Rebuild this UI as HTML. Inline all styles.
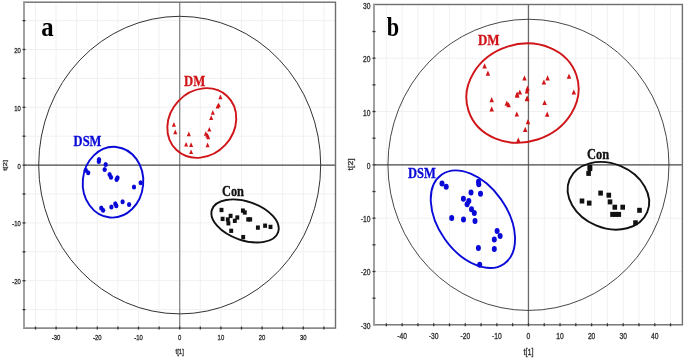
<!DOCTYPE html>
<html><head><meta charset="utf-8"><style>
html,body{margin:0;padding:0;background:#fff;}
body{width:685px;height:359px;overflow:hidden;}
svg{display:block;filter:blur(0.3px);}
.tl{font-family:"Liberation Sans",sans-serif;font-size:7.6px;fill:#333;stroke:#333;stroke-width:0.35px;}
.gl{font-family:"Liberation Serif",serif;font-weight:bold;stroke-width:0.3px;}
.pl{font-family:"Liberation Serif",serif;font-weight:bold;font-size:27.5px;fill:#000;}
</style></head><body>
<svg width="685" height="359" viewBox="0 0 685 359">
<rect width="685" height="359" fill="#fff"/>
<g>
<line x1="35.50" y1="2.2" x2="35.50" y2="328.1" stroke="#f1f1f1" stroke-width="1"/>
<line x1="56.10" y1="2.2" x2="56.10" y2="328.1" stroke="#f1f1f1" stroke-width="1"/>
<line x1="76.70" y1="2.2" x2="76.70" y2="328.1" stroke="#f1f1f1" stroke-width="1"/>
<line x1="97.30" y1="2.2" x2="97.30" y2="328.1" stroke="#f1f1f1" stroke-width="1"/>
<line x1="117.90" y1="2.2" x2="117.90" y2="328.1" stroke="#f1f1f1" stroke-width="1"/>
<line x1="138.50" y1="2.2" x2="138.50" y2="328.1" stroke="#f1f1f1" stroke-width="1"/>
<line x1="159.10" y1="2.2" x2="159.10" y2="328.1" stroke="#f1f1f1" stroke-width="1"/>
<line x1="179.70" y1="2.2" x2="179.70" y2="328.1" stroke="#f1f1f1" stroke-width="1"/>
<line x1="200.30" y1="2.2" x2="200.30" y2="328.1" stroke="#f1f1f1" stroke-width="1"/>
<line x1="220.90" y1="2.2" x2="220.90" y2="328.1" stroke="#f1f1f1" stroke-width="1"/>
<line x1="241.50" y1="2.2" x2="241.50" y2="328.1" stroke="#f1f1f1" stroke-width="1"/>
<line x1="262.10" y1="2.2" x2="262.10" y2="328.1" stroke="#f1f1f1" stroke-width="1"/>
<line x1="282.70" y1="2.2" x2="282.70" y2="328.1" stroke="#f1f1f1" stroke-width="1"/>
<line x1="303.30" y1="2.2" x2="303.30" y2="328.1" stroke="#f1f1f1" stroke-width="1"/>
<line x1="323.90" y1="2.2" x2="323.90" y2="328.1" stroke="#f1f1f1" stroke-width="1"/>
<line x1="24" y1="309.60" x2="335.5" y2="309.60" stroke="#f1f1f1" stroke-width="1"/>
<line x1="24" y1="280.70" x2="335.5" y2="280.70" stroke="#f1f1f1" stroke-width="1"/>
<line x1="24" y1="251.80" x2="335.5" y2="251.80" stroke="#f1f1f1" stroke-width="1"/>
<line x1="24" y1="222.90" x2="335.5" y2="222.90" stroke="#f1f1f1" stroke-width="1"/>
<line x1="24" y1="194.00" x2="335.5" y2="194.00" stroke="#f1f1f1" stroke-width="1"/>
<line x1="24" y1="165.10" x2="335.5" y2="165.10" stroke="#f1f1f1" stroke-width="1"/>
<line x1="24" y1="136.20" x2="335.5" y2="136.20" stroke="#f1f1f1" stroke-width="1"/>
<line x1="24" y1="107.30" x2="335.5" y2="107.30" stroke="#f1f1f1" stroke-width="1"/>
<line x1="24" y1="78.40" x2="335.5" y2="78.40" stroke="#f1f1f1" stroke-width="1"/>
<line x1="24" y1="49.50" x2="335.5" y2="49.50" stroke="#f1f1f1" stroke-width="1"/>
<line x1="24" y1="20.60" x2="335.5" y2="20.60" stroke="#f1f1f1" stroke-width="1"/>
<line x1="179.70" y1="2.2" x2="179.70" y2="328.1" stroke="#888888" stroke-width="1.3"/>
<line x1="24" y1="165.10" x2="335.5" y2="165.10" stroke="#4a4a4a" stroke-width="1.1"/>
<ellipse cx="179.70" cy="165.10" rx="141.0" ry="148.8" fill="none" stroke="#333" stroke-width="1.0"/>
<rect x="24" y="2.2" width="311.5" height="325.90000000000003" fill="none" stroke="#6e6e6e" stroke-width="1.4"/>
<line x1="24" y1="2.2" x2="24" y2="328.1" stroke="#fff" stroke-width="2"/>
<line x1="24" y1="1.5000000000000002" x2="24" y2="328.8" stroke="#8a8a8a" stroke-width="1.6"/>
<line x1="35.50" y1="326.6" x2="35.50" y2="329.6" stroke="#333" stroke-width="1.3"/>
<line x1="56.10" y1="326.6" x2="56.10" y2="329.6" stroke="#333" stroke-width="1.3"/>
<line x1="76.70" y1="326.6" x2="76.70" y2="329.6" stroke="#333" stroke-width="1.3"/>
<line x1="97.30" y1="326.6" x2="97.30" y2="329.6" stroke="#333" stroke-width="1.3"/>
<line x1="117.90" y1="326.6" x2="117.90" y2="329.6" stroke="#333" stroke-width="1.3"/>
<line x1="138.50" y1="326.6" x2="138.50" y2="329.6" stroke="#333" stroke-width="1.3"/>
<line x1="159.10" y1="326.6" x2="159.10" y2="329.6" stroke="#333" stroke-width="1.3"/>
<line x1="179.70" y1="326.6" x2="179.70" y2="329.6" stroke="#333" stroke-width="1.3"/>
<line x1="200.30" y1="326.6" x2="200.30" y2="329.6" stroke="#333" stroke-width="1.3"/>
<line x1="220.90" y1="326.6" x2="220.90" y2="329.6" stroke="#333" stroke-width="1.3"/>
<line x1="241.50" y1="326.6" x2="241.50" y2="329.6" stroke="#333" stroke-width="1.3"/>
<line x1="262.10" y1="326.6" x2="262.10" y2="329.6" stroke="#333" stroke-width="1.3"/>
<line x1="282.70" y1="326.6" x2="282.70" y2="329.6" stroke="#333" stroke-width="1.3"/>
<line x1="303.30" y1="326.6" x2="303.30" y2="329.6" stroke="#333" stroke-width="1.3"/>
<line x1="323.90" y1="326.6" x2="323.90" y2="329.6" stroke="#333" stroke-width="1.3"/>
<line x1="22.5" y1="309.60" x2="25.5" y2="309.60" stroke="#333" stroke-width="1.3"/>
<line x1="22.5" y1="280.70" x2="25.5" y2="280.70" stroke="#333" stroke-width="1.3"/>
<line x1="22.5" y1="251.80" x2="25.5" y2="251.80" stroke="#333" stroke-width="1.3"/>
<line x1="22.5" y1="222.90" x2="25.5" y2="222.90" stroke="#333" stroke-width="1.3"/>
<line x1="22.5" y1="194.00" x2="25.5" y2="194.00" stroke="#333" stroke-width="1.3"/>
<line x1="22.5" y1="165.10" x2="25.5" y2="165.10" stroke="#333" stroke-width="1.3"/>
<line x1="22.5" y1="136.20" x2="25.5" y2="136.20" stroke="#333" stroke-width="1.3"/>
<line x1="22.5" y1="107.30" x2="25.5" y2="107.30" stroke="#333" stroke-width="1.3"/>
<line x1="22.5" y1="78.40" x2="25.5" y2="78.40" stroke="#333" stroke-width="1.3"/>
<line x1="22.5" y1="49.50" x2="25.5" y2="49.50" stroke="#333" stroke-width="1.3"/>
<line x1="22.5" y1="20.60" x2="25.5" y2="20.60" stroke="#333" stroke-width="1.3"/>
<text transform="translate(56.10 340.3) scale(0.74 1)" text-anchor="middle" class="tl" style="font-size:8.0px">-30</text>
<text transform="translate(97.30 340.3) scale(0.74 1)" text-anchor="middle" class="tl" style="font-size:8.0px">-20</text>
<text transform="translate(138.50 340.3) scale(0.74 1)" text-anchor="middle" class="tl" style="font-size:8.0px">-10</text>
<text transform="translate(179.70 340.3) scale(0.74 1)" text-anchor="middle" class="tl" style="font-size:8.0px">0</text>
<text transform="translate(220.90 340.3) scale(0.74 1)" text-anchor="middle" class="tl" style="font-size:8.0px">10</text>
<text transform="translate(262.10 340.3) scale(0.74 1)" text-anchor="middle" class="tl" style="font-size:8.0px">20</text>
<text transform="translate(303.30 340.3) scale(0.74 1)" text-anchor="middle" class="tl" style="font-size:8.0px">30</text>
<text transform="translate(20.8 52.96) scale(0.74 1)" text-anchor="end" class="tl" style="font-size:8.0px">20</text>
<text transform="translate(20.8 110.76) scale(0.74 1)" text-anchor="end" class="tl" style="font-size:8.0px">10</text>
<text transform="translate(20.8 168.56) scale(0.74 1)" text-anchor="end" class="tl" style="font-size:8.0px">0</text>
<text transform="translate(20.8 226.36) scale(0.74 1)" text-anchor="end" class="tl" style="font-size:8.0px">-10</text>
<text transform="translate(20.8 284.16) scale(0.74 1)" text-anchor="end" class="tl" style="font-size:8.0px">-20</text>
<text transform="translate(179.70 354.3) scale(0.76 1)" text-anchor="middle" class="tl" style="font-size:7.9px">t[1]</text>
<text transform="translate(6.6 165.4) rotate(-90) scale(1 0.76)" text-anchor="middle" class="tl" style="font-size:7.9px">t[2]</text>
<line x1="386.36" y1="4.5" x2="386.36" y2="324.8" stroke="#f1f1f1" stroke-width="1"/>
<line x1="402.15" y1="4.5" x2="402.15" y2="324.8" stroke="#f1f1f1" stroke-width="1"/>
<line x1="417.94" y1="4.5" x2="417.94" y2="324.8" stroke="#f1f1f1" stroke-width="1"/>
<line x1="433.73" y1="4.5" x2="433.73" y2="324.8" stroke="#f1f1f1" stroke-width="1"/>
<line x1="449.51" y1="4.5" x2="449.51" y2="324.8" stroke="#f1f1f1" stroke-width="1"/>
<line x1="465.30" y1="4.5" x2="465.30" y2="324.8" stroke="#f1f1f1" stroke-width="1"/>
<line x1="481.09" y1="4.5" x2="481.09" y2="324.8" stroke="#f1f1f1" stroke-width="1"/>
<line x1="496.88" y1="4.5" x2="496.88" y2="324.8" stroke="#f1f1f1" stroke-width="1"/>
<line x1="512.66" y1="4.5" x2="512.66" y2="324.8" stroke="#f1f1f1" stroke-width="1"/>
<line x1="528.45" y1="4.5" x2="528.45" y2="324.8" stroke="#f1f1f1" stroke-width="1"/>
<line x1="544.24" y1="4.5" x2="544.24" y2="324.8" stroke="#f1f1f1" stroke-width="1"/>
<line x1="560.03" y1="4.5" x2="560.03" y2="324.8" stroke="#f1f1f1" stroke-width="1"/>
<line x1="575.81" y1="4.5" x2="575.81" y2="324.8" stroke="#f1f1f1" stroke-width="1"/>
<line x1="591.60" y1="4.5" x2="591.60" y2="324.8" stroke="#f1f1f1" stroke-width="1"/>
<line x1="607.39" y1="4.5" x2="607.39" y2="324.8" stroke="#f1f1f1" stroke-width="1"/>
<line x1="623.18" y1="4.5" x2="623.18" y2="324.8" stroke="#f1f1f1" stroke-width="1"/>
<line x1="638.96" y1="4.5" x2="638.96" y2="324.8" stroke="#f1f1f1" stroke-width="1"/>
<line x1="654.75" y1="4.5" x2="654.75" y2="324.8" stroke="#f1f1f1" stroke-width="1"/>
<line x1="670.54" y1="4.5" x2="670.54" y2="324.8" stroke="#f1f1f1" stroke-width="1"/>
<line x1="374" y1="271.51" x2="682.4" y2="271.51" stroke="#f1f1f1" stroke-width="1"/>
<line x1="374" y1="218.18" x2="682.4" y2="218.18" stroke="#f1f1f1" stroke-width="1"/>
<line x1="374" y1="164.85" x2="682.4" y2="164.85" stroke="#f1f1f1" stroke-width="1"/>
<line x1="374" y1="111.52" x2="682.4" y2="111.52" stroke="#f1f1f1" stroke-width="1"/>
<line x1="374" y1="58.19" x2="682.4" y2="58.19" stroke="#f1f1f1" stroke-width="1"/>
<line x1="528.45" y1="4.5" x2="528.45" y2="324.8" stroke="#6a6a6a" stroke-width="1.3"/>
<line x1="374" y1="164.85" x2="682.4" y2="164.85" stroke="#4a4a4a" stroke-width="1.1"/>
<ellipse cx="528.45" cy="164.85" rx="140.5" ry="145.6" fill="none" stroke="#333" stroke-width="0.9"/>
<rect x="374" y="4.5" width="308.4" height="320.3" fill="none" stroke="#6e6e6e" stroke-width="1.4"/>
<line x1="374" y1="4.5" x2="374" y2="324.8" stroke="#fff" stroke-width="2"/>
<line x1="374" y1="3.8" x2="374" y2="325.5" stroke="#8a8a8a" stroke-width="1.6"/>
<line x1="386.36" y1="323.3" x2="386.36" y2="326.3" stroke="#333" stroke-width="1.3"/>
<line x1="402.15" y1="323.3" x2="402.15" y2="326.3" stroke="#333" stroke-width="1.3"/>
<line x1="417.94" y1="323.3" x2="417.94" y2="326.3" stroke="#333" stroke-width="1.3"/>
<line x1="433.73" y1="323.3" x2="433.73" y2="326.3" stroke="#333" stroke-width="1.3"/>
<line x1="449.51" y1="323.3" x2="449.51" y2="326.3" stroke="#333" stroke-width="1.3"/>
<line x1="465.30" y1="323.3" x2="465.30" y2="326.3" stroke="#333" stroke-width="1.3"/>
<line x1="481.09" y1="323.3" x2="481.09" y2="326.3" stroke="#333" stroke-width="1.3"/>
<line x1="496.88" y1="323.3" x2="496.88" y2="326.3" stroke="#333" stroke-width="1.3"/>
<line x1="512.66" y1="323.3" x2="512.66" y2="326.3" stroke="#333" stroke-width="1.3"/>
<line x1="528.45" y1="323.3" x2="528.45" y2="326.3" stroke="#333" stroke-width="1.3"/>
<line x1="544.24" y1="323.3" x2="544.24" y2="326.3" stroke="#333" stroke-width="1.3"/>
<line x1="560.03" y1="323.3" x2="560.03" y2="326.3" stroke="#333" stroke-width="1.3"/>
<line x1="575.81" y1="323.3" x2="575.81" y2="326.3" stroke="#333" stroke-width="1.3"/>
<line x1="591.60" y1="323.3" x2="591.60" y2="326.3" stroke="#333" stroke-width="1.3"/>
<line x1="607.39" y1="323.3" x2="607.39" y2="326.3" stroke="#333" stroke-width="1.3"/>
<line x1="623.18" y1="323.3" x2="623.18" y2="326.3" stroke="#333" stroke-width="1.3"/>
<line x1="638.96" y1="323.3" x2="638.96" y2="326.3" stroke="#333" stroke-width="1.3"/>
<line x1="654.75" y1="323.3" x2="654.75" y2="326.3" stroke="#333" stroke-width="1.3"/>
<line x1="670.54" y1="323.3" x2="670.54" y2="326.3" stroke="#333" stroke-width="1.3"/>
<line x1="372.5" y1="298.18" x2="375.5" y2="298.18" stroke="#333" stroke-width="1.3"/>
<line x1="372.5" y1="271.51" x2="375.5" y2="271.51" stroke="#333" stroke-width="1.3"/>
<line x1="372.5" y1="244.84" x2="375.5" y2="244.84" stroke="#333" stroke-width="1.3"/>
<line x1="372.5" y1="218.18" x2="375.5" y2="218.18" stroke="#333" stroke-width="1.3"/>
<line x1="372.5" y1="191.51" x2="375.5" y2="191.51" stroke="#333" stroke-width="1.3"/>
<line x1="372.5" y1="164.85" x2="375.5" y2="164.85" stroke="#333" stroke-width="1.3"/>
<line x1="372.5" y1="138.19" x2="375.5" y2="138.19" stroke="#333" stroke-width="1.3"/>
<line x1="372.5" y1="111.52" x2="375.5" y2="111.52" stroke="#333" stroke-width="1.3"/>
<line x1="372.5" y1="84.85" x2="375.5" y2="84.85" stroke="#333" stroke-width="1.3"/>
<line x1="372.5" y1="58.19" x2="375.5" y2="58.19" stroke="#333" stroke-width="1.3"/>
<line x1="372.5" y1="31.52" x2="375.5" y2="31.52" stroke="#333" stroke-width="1.3"/>
<text transform="translate(402.15 339.4) scale(0.78 1)" text-anchor="middle" class="tl" style="font-size:8.6px">-40</text>
<text transform="translate(433.73 339.4) scale(0.78 1)" text-anchor="middle" class="tl" style="font-size:8.6px">-30</text>
<text transform="translate(465.30 339.4) scale(0.78 1)" text-anchor="middle" class="tl" style="font-size:8.6px">-20</text>
<text transform="translate(496.88 339.4) scale(0.78 1)" text-anchor="middle" class="tl" style="font-size:8.6px">-10</text>
<text transform="translate(528.45 339.4) scale(0.78 1)" text-anchor="middle" class="tl" style="font-size:8.6px">0</text>
<text transform="translate(560.03 339.4) scale(0.78 1)" text-anchor="middle" class="tl" style="font-size:8.6px">10</text>
<text transform="translate(591.60 339.4) scale(0.78 1)" text-anchor="middle" class="tl" style="font-size:8.6px">20</text>
<text transform="translate(623.18 339.4) scale(0.78 1)" text-anchor="middle" class="tl" style="font-size:8.6px">30</text>
<text transform="translate(654.75 339.4) scale(0.78 1)" text-anchor="middle" class="tl" style="font-size:8.6px">40</text>
<text transform="translate(370.5 8.84) scale(0.78 1)" text-anchor="end" class="tl" style="font-size:8.6px">30</text>
<text transform="translate(370.5 62.17) scale(0.78 1)" text-anchor="end" class="tl" style="font-size:8.6px">20</text>
<text transform="translate(370.5 115.50) scale(0.78 1)" text-anchor="end" class="tl" style="font-size:8.6px">10</text>
<text transform="translate(370.5 168.83) scale(0.78 1)" text-anchor="end" class="tl" style="font-size:8.6px">0</text>
<text transform="translate(370.5 222.16) scale(0.78 1)" text-anchor="end" class="tl" style="font-size:8.6px">-10</text>
<text transform="translate(370.5 275.49) scale(0.78 1)" text-anchor="end" class="tl" style="font-size:8.6px">-20</text>
<text transform="translate(370.5 328.82) scale(0.78 1)" text-anchor="end" class="tl" style="font-size:8.6px">-30</text>
<text transform="translate(528.45 354.6) scale(0.84 1)" text-anchor="middle" class="tl" style="font-size:8.7px">t[1]</text>
<text transform="translate(353.2 164.4) rotate(-90) scale(1 0.84)" text-anchor="middle" class="tl" style="font-size:8.7px">t[2]</text>
</g>
<ellipse cx="201.8" cy="123.0" rx="37.0" ry="32.1" transform="rotate(-47.0 201.8 123.0)" fill="none" stroke="#d01418" stroke-width="1.9"/>
<ellipse cx="113.0" cy="182.2" rx="30.25" ry="35.4" transform="rotate(5.0 113.0 182.2)" fill="none" stroke="#0a0ad8" stroke-width="1.9"/>
<ellipse cx="245.05" cy="220.93" rx="34.92" ry="19.42" transform="rotate(18.8 245.05 220.93)" fill="none" stroke="#111" stroke-width="1.9"/>
<ellipse cx="522.5" cy="93.1" rx="56.8" ry="48.8" transform="rotate(-18.0 522.5 93.1)" fill="none" stroke="#d01418" stroke-width="1.9"/>
<ellipse cx="472.9" cy="219.2" rx="54.4" ry="34.45" transform="rotate(54.8 472.9 219.2)" fill="none" stroke="#0a0ad8" stroke-width="1.9"/>
<ellipse cx="608.4" cy="195.8" rx="42.1" ry="32.1" transform="rotate(22.8 608.4 195.8)" fill="none" stroke="#111" stroke-width="1.9"/>
<path d="M220.40 94.50L222.40 99.20L218.40 99.20Z" fill="#d01418"/>
<path d="M218.70 102.50L220.70 107.20L216.70 107.20Z" fill="#d01418"/>
<path d="M217.60 103.90L219.60 108.60L215.60 108.60Z" fill="#d01418"/>
<path d="M212.80 110.00L214.80 114.70L210.80 114.70Z" fill="#d01418"/>
<path d="M211.20 115.30L213.20 120.00L209.20 120.00Z" fill="#d01418"/>
<path d="M209.30 126.90L211.30 131.60L207.30 131.60Z" fill="#d01418"/>
<path d="M205.80 131.00L207.80 135.70L203.80 135.70Z" fill="#d01418"/>
<path d="M207.20 132.80L209.20 137.50L205.20 137.50Z" fill="#d01418"/>
<path d="M208.20 134.60L210.20 139.30L206.20 139.30Z" fill="#d01418"/>
<path d="M207.60 142.60L209.60 147.30L205.60 147.30Z" fill="#d01418"/>
<path d="M173.90 122.10L175.90 126.80L171.90 126.80Z" fill="#d01418"/>
<path d="M175.30 129.60L177.30 134.30L173.30 134.30Z" fill="#d01418"/>
<path d="M188.80 131.60L190.80 136.30L186.80 136.30Z" fill="#d01418"/>
<path d="M186.10 141.90L188.10 146.60L184.10 146.60Z" fill="#d01418"/>
<path d="M191.10 142.30L193.10 147.00L189.10 147.00Z" fill="#d01418"/>
<path d="M191.10 149.40L193.10 154.10L189.10 154.10Z" fill="#d01418"/>
<ellipse cx="99.00" cy="159.40" rx="2.15" ry="2.5" fill="#0a0ad8"/>
<ellipse cx="98.80" cy="161.50" rx="2.15" ry="2.5" fill="#0a0ad8"/>
<ellipse cx="85.80" cy="170.20" rx="2.15" ry="2.5" fill="#0a0ad8"/>
<ellipse cx="88.20" cy="172.80" rx="2.15" ry="2.5" fill="#0a0ad8"/>
<ellipse cx="105.70" cy="164.40" rx="2.15" ry="2.5" fill="#0a0ad8"/>
<ellipse cx="104.70" cy="169.40" rx="2.15" ry="2.5" fill="#0a0ad8"/>
<ellipse cx="109.60" cy="174.60" rx="2.15" ry="2.5" fill="#0a0ad8"/>
<ellipse cx="111.00" cy="177.30" rx="2.15" ry="2.5" fill="#0a0ad8"/>
<ellipse cx="117.50" cy="177.80" rx="2.15" ry="2.5" fill="#0a0ad8"/>
<ellipse cx="116.60" cy="179.60" rx="2.15" ry="2.5" fill="#0a0ad8"/>
<ellipse cx="134.00" cy="187.00" rx="2.15" ry="2.5" fill="#0a0ad8"/>
<ellipse cx="140.70" cy="182.80" rx="2.15" ry="2.5" fill="#0a0ad8"/>
<ellipse cx="122.60" cy="201.80" rx="2.15" ry="2.5" fill="#0a0ad8"/>
<ellipse cx="129.10" cy="204.50" rx="2.15" ry="2.5" fill="#0a0ad8"/>
<ellipse cx="115.30" cy="203.70" rx="2.15" ry="2.5" fill="#0a0ad8"/>
<ellipse cx="116.30" cy="205.80" rx="2.15" ry="2.5" fill="#0a0ad8"/>
<ellipse cx="111.40" cy="207.00" rx="2.15" ry="2.5" fill="#0a0ad8"/>
<ellipse cx="101.30" cy="207.90" rx="2.15" ry="2.5" fill="#0a0ad8"/>
<ellipse cx="103.10" cy="210.30" rx="2.15" ry="2.5" fill="#0a0ad8"/>
<rect x="219.55" y="207.85" width="3.9" height="4.3" fill="#111"/>
<rect x="240.95" y="208.45" width="3.9" height="4.3" fill="#111"/>
<rect x="242.85" y="210.35" width="3.9" height="4.3" fill="#111"/>
<rect x="220.65" y="216.75" width="3.9" height="4.3" fill="#111"/>
<rect x="228.65" y="213.75" width="3.9" height="4.3" fill="#111"/>
<rect x="225.85" y="217.35" width="3.9" height="4.3" fill="#111"/>
<rect x="226.45" y="221.15" width="3.9" height="4.3" fill="#111"/>
<rect x="235.35" y="215.35" width="3.9" height="4.3" fill="#111"/>
<rect x="232.85" y="218.65" width="3.9" height="4.3" fill="#111"/>
<rect x="246.25" y="217.25" width="3.9" height="4.3" fill="#111"/>
<rect x="248.25" y="217.25" width="3.9" height="4.3" fill="#111"/>
<rect x="229.25" y="228.65" width="3.9" height="4.3" fill="#111"/>
<rect x="241.25" y="234.95" width="3.9" height="4.3" fill="#111"/>
<rect x="255.95" y="225.45" width="3.9" height="4.3" fill="#111"/>
<rect x="263.15" y="223.55" width="3.9" height="4.3" fill="#111"/>
<rect x="268.55" y="224.75" width="3.9" height="4.3" fill="#111"/>
<path d="M484.60 63.20L486.85 68.40L482.35 68.40Z" fill="#d01418"/>
<path d="M487.90 70.50L490.15 75.70L485.65 75.70Z" fill="#d01418"/>
<path d="M491.70 97.00L493.95 102.20L489.45 102.20Z" fill="#d01418"/>
<path d="M491.70 106.20L493.95 111.40L489.45 111.40Z" fill="#d01418"/>
<path d="M506.80 100.60L509.05 105.80L504.55 105.80Z" fill="#d01418"/>
<path d="M508.60 102.00L510.85 107.20L506.35 107.20Z" fill="#d01418"/>
<path d="M517.10 91.60L519.35 96.80L514.85 96.80Z" fill="#d01418"/>
<path d="M519.80 89.40L522.05 94.60L517.55 94.60Z" fill="#d01418"/>
<path d="M524.50 75.40L526.75 80.60L522.25 80.60Z" fill="#d01418"/>
<path d="M527.50 85.50L529.75 90.70L525.25 90.70Z" fill="#d01418"/>
<path d="M527.00 88.20L529.25 93.40L524.75 93.40Z" fill="#d01418"/>
<path d="M527.00 96.10L529.25 101.30L524.75 101.30Z" fill="#d01418"/>
<path d="M517.20 92.60L519.45 97.80L514.95 97.80Z" fill="#d01418"/>
<path d="M527.20 95.60L529.45 100.80L524.95 100.80Z" fill="#d01418"/>
<path d="M516.80 111.40L519.05 116.60L514.55 116.60Z" fill="#d01418"/>
<path d="M528.00 119.00L530.25 124.20L525.75 124.20Z" fill="#d01418"/>
<path d="M525.20 126.70L527.45 131.90L522.95 131.90Z" fill="#d01418"/>
<path d="M518.30 137.40L520.55 142.60L516.05 142.60Z" fill="#d01418"/>
<path d="M547.60 75.20L549.85 80.40L545.35 80.40Z" fill="#d01418"/>
<path d="M543.90 79.40L546.15 84.60L541.65 84.60Z" fill="#d01418"/>
<path d="M569.00 73.50L571.25 78.70L566.75 78.70Z" fill="#d01418"/>
<path d="M573.80 89.40L576.05 94.60L571.55 94.60Z" fill="#d01418"/>
<path d="M544.60 99.90L546.85 105.10L542.35 105.10Z" fill="#d01418"/>
<path d="M547.20 111.60L549.45 116.80L544.95 116.80Z" fill="#d01418"/>
<ellipse cx="442.00" cy="183.40" rx="2.5" ry="3.0" fill="#0a0ad8"/>
<ellipse cx="446.20" cy="186.70" rx="2.5" ry="3.0" fill="#0a0ad8"/>
<ellipse cx="478.50" cy="181.70" rx="2.5" ry="3.0" fill="#0a0ad8"/>
<ellipse cx="478.80" cy="184.20" rx="2.5" ry="3.0" fill="#0a0ad8"/>
<ellipse cx="471.00" cy="192.60" rx="2.5" ry="3.0" fill="#0a0ad8"/>
<ellipse cx="480.50" cy="193.70" rx="2.5" ry="3.0" fill="#0a0ad8"/>
<ellipse cx="463.40" cy="198.70" rx="2.5" ry="3.0" fill="#0a0ad8"/>
<ellipse cx="468.80" cy="200.90" rx="2.5" ry="3.0" fill="#0a0ad8"/>
<ellipse cx="467.10" cy="204.30" rx="2.5" ry="3.0" fill="#0a0ad8"/>
<ellipse cx="471.50" cy="209.30" rx="2.5" ry="3.0" fill="#0a0ad8"/>
<ellipse cx="474.30" cy="213.10" rx="2.5" ry="3.0" fill="#0a0ad8"/>
<ellipse cx="451.70" cy="218.10" rx="2.5" ry="3.0" fill="#0a0ad8"/>
<ellipse cx="463.50" cy="219.50" rx="2.5" ry="3.0" fill="#0a0ad8"/>
<ellipse cx="475.00" cy="221.00" rx="2.5" ry="3.0" fill="#0a0ad8"/>
<ellipse cx="497.10" cy="230.90" rx="2.5" ry="3.0" fill="#0a0ad8"/>
<ellipse cx="500.10" cy="235.90" rx="2.5" ry="3.0" fill="#0a0ad8"/>
<ellipse cx="494.30" cy="239.60" rx="2.5" ry="3.0" fill="#0a0ad8"/>
<ellipse cx="478.40" cy="248.10" rx="2.5" ry="3.0" fill="#0a0ad8"/>
<ellipse cx="494.30" cy="248.90" rx="2.5" ry="3.0" fill="#0a0ad8"/>
<ellipse cx="479.70" cy="264.80" rx="2.5" ry="3.0" fill="#0a0ad8"/>
<rect x="587.60" y="164.80" width="4.6" height="5.0" fill="#111"/>
<rect x="587.60" y="166.10" width="4.6" height="5.0" fill="#111"/>
<rect x="586.30" y="170.90" width="4.6" height="5.0" fill="#111"/>
<rect x="598.30" y="190.60" width="4.6" height="5.0" fill="#111"/>
<rect x="606.50" y="192.70" width="4.6" height="5.0" fill="#111"/>
<rect x="579.70" y="198.50" width="4.6" height="5.0" fill="#111"/>
<rect x="586.90" y="200.60" width="4.6" height="5.0" fill="#111"/>
<rect x="607.70" y="199.40" width="4.6" height="5.0" fill="#111"/>
<rect x="612.50" y="204.70" width="4.6" height="5.0" fill="#111"/>
<rect x="620.40" y="204.70" width="4.6" height="5.0" fill="#111"/>
<rect x="610.20" y="211.90" width="4.6" height="5.0" fill="#111"/>
<rect x="613.40" y="211.90" width="4.6" height="5.0" fill="#111"/>
<rect x="616.50" y="211.90" width="4.6" height="5.0" fill="#111"/>
<rect x="637.20" y="207.80" width="4.6" height="5.0" fill="#111"/>
<rect x="633.20" y="220.30" width="4.6" height="5.0" fill="#111"/>
<text x="184.0" y="86.2" class="gl" fill="#d01418" stroke="#d01418" font-size="14.8" textLength="21.2" lengthAdjust="spacingAndGlyphs">DM</text>
<text x="73.6" y="146.0" class="gl" fill="#0a0ad8" stroke="#0a0ad8" font-size="14.8" textLength="27.8" lengthAdjust="spacingAndGlyphs">DSM</text>
<text x="222.0" y="196.4" class="gl" fill="#111" stroke="#111" font-size="14.8" textLength="22.0" lengthAdjust="spacingAndGlyphs">Con</text>
<text x="478.0" y="45.3" class="gl" fill="#d01418" stroke="#d01418" font-size="14.8" textLength="21.6" lengthAdjust="spacingAndGlyphs">DM</text>
<text x="408.0" y="177.8" class="gl" fill="#0a0ad8" stroke="#0a0ad8" font-size="14.8" textLength="27.8" lengthAdjust="spacingAndGlyphs">DSM</text>
<text x="587.0" y="158.8" class="gl" fill="#111" stroke="#111" font-size="14.8" textLength="22.2" lengthAdjust="spacingAndGlyphs">Con</text>
<text x="41.3" y="36.1" class="pl" textLength="12.4" lengthAdjust="spacingAndGlyphs">a</text>
<text x="386.8" y="36.1" class="pl" textLength="12.4" lengthAdjust="spacingAndGlyphs">b</text>
</svg>
</body></html>
